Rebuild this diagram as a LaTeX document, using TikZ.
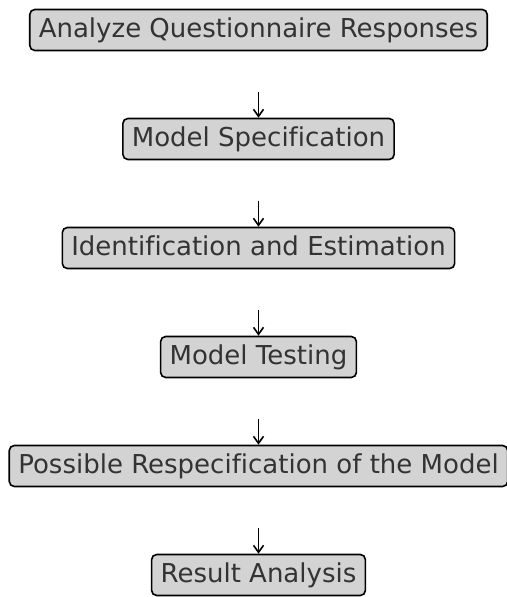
\documentclass[tikz,border=0pt]{standalone}
\usepackage{fontspec}
\setmainfont{DejaVu Sans}[Ligatures=NoCommon]
\usetikzlibrary{arrows.meta}
\definecolor{boxfill}{HTML}{D3D3D3}
\definecolor{textgray}{HTML}{333333}
\begin{document}
\begin{tikzpicture}[x=1pt,y=1pt,
  stepbox/.style={draw=black, line width=1.6pt, fill=boxfill, rounded corners=5pt,
    text=textgray, font=\fontsize{26}{30}\selectfont, minimum height=41pt,
    inner xsep=9pt, inner ysep=0pt, text height=21pt, text depth=5pt},
  flow/.style={-{Straight Barb[length=7pt,width=10pt]}, line width=1.6pt}]
\useasboundingbox (0,0) rectangle (506,597);
\node[stepbox] (b1) at (258.5,567) {Analyze Questionnaire Responses};
\node[stepbox] (b2) at (258.5,458) {Model Specification};
\node[stepbox] (b3) at (258.5,349) {Identification and Estimation};
\node[stepbox] (b4) at (258.5,240) {Model Testing};
\node[stepbox] (b5) at (258.5,131) {Possible Respecification of the Model};
\node[stepbox] (b6) at (258.5,22) {Result Analysis};
\foreach \n in {2,...,6}{
  \coordinate (s\n) at ([yshift=26pt]b\n.north);
  \draw[flow] (s\n) -- (b\n.north);
}
\end{tikzpicture}
\end{document}
